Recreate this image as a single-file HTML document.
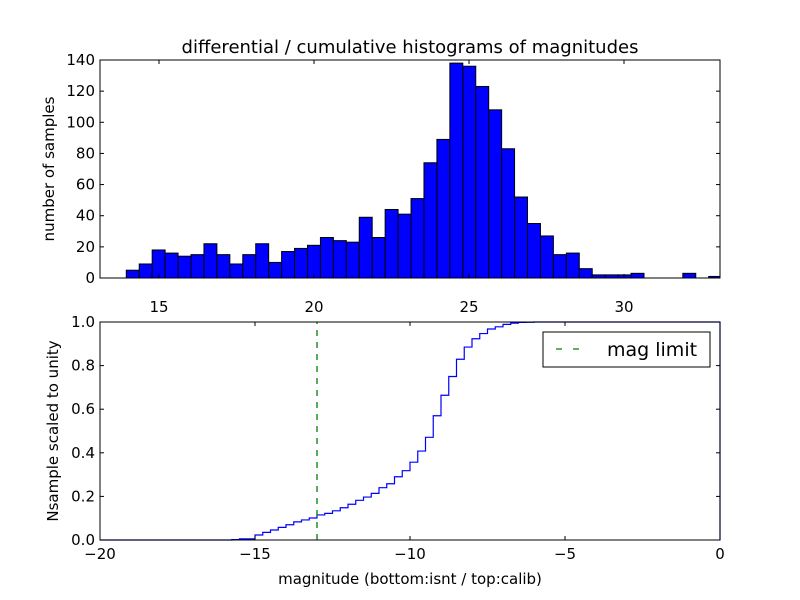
<!DOCTYPE html>
<html><head><meta charset="utf-8"><style>
body{margin:0;background:#fff;}
svg{display:block;font-family:"DejaVu Sans","Liberation Sans",sans-serif;}
</style></head><body>
<svg id="chart" width="800" height="600" xmlns="http://www.w3.org/2000/svg">
<rect width="800" height="600" fill="#fff"/>
<text x="410" y="53" font-size="18" text-anchor="middle">differential / cumulative histograms of magnitudes</text>
<g id="topG"></g>
<g id="botG"></g>
<text x="54" y="169" font-size="15" text-anchor="middle" transform="rotate(-90 54 169)">number of samples</text>
<text x="58" y="431" font-size="15" text-anchor="middle" transform="rotate(-90 58 431)">Nsample scaled to unity</text>
<text x="410" y="584" font-size="15" text-anchor="middle">magnitude (bottom:isnt / top:calib)</text>
<g>
<rect x="543" y="332" width="167" height="35" fill="#fff" stroke="#000" stroke-width="1"/>
<line x1="556" y1="349" x2="586" y2="349" stroke="#008000" stroke-width="1.3" stroke-dasharray="6,11"/>
<text x="607" y="356" font-size="19">mag limit</text>
</g>
</svg>
<script>
const histStart = 13.945;
const histBinWidth = 0.4175;
const histCounts = [5,9,18,16,14,15,22,15,9,15,22,10,17,19,21,26,24,23,39,26,44,41,51,74,89,138,136,123,108,83,52,35,27,15,16,6,2,2,2,3,0,0,0,3,0,1];
const topXTicks = [15,20,25,30];
const topYTicks = [0,20,40,60,80,100,120,140];
const cumEdges = [-15.75,-15.5,-15.25,-15,-14.75,-14.5,-14.25,-14,-13.75,-13.5,-13.25,-13,-12.75,-12.5,-12.25,-12,-11.75,-11.5,-11.25,-11,-10.75,-10.5,-10.25,-10,-9.75,-9.5,-9.25,-9,-8.75,-8.5,-8.25,-8,-7.75,-7.5,-7.25,-7,-6.75,-6.5,-6.25,-6,-5.75];
const cumValues = [0.002,0.005,0.005,0.023,0.035,0.046,0.058,0.07,0.083,0.092,0.101,0.115,0.122,0.134,0.148,0.164,0.182,0.197,0.214,0.24,0.258,0.29,0.318,0.357,0.408,0.471,0.57,0.664,0.75,0.829,0.885,0.923,0.947,0.968,0.978,0.989,0.995,0.998,0.999,1.0,1.0];
const magLimit = [-13];
const botXTicks = [-20,-15,-10,-5,0];
const botYTicks = [0,0.2,0.4,0.6,0.8,1.0];

const NS='http://www.w3.org/2000/svg';
function mk(tag,attrs,parent){const e=document.createElementNS(NS,tag);for(const k in attrs)e.setAttribute(k,attrs[k]);parent.appendChild(e);return e;}
const AL=100,AR=720;
const tX=v=>159+(v-15)*31, tY=v=>278-(v/140)*218;
const topG=document.getElementById('topG');
histCounts.forEach((c,i)=>{
  const x0=tX(histStart+i*histBinWidth), x1=tX(histStart+(i+1)*histBinWidth);
  if(c<=0)return;
  const r=mk('rect',{x:x0,y:tY(c),width:Math.min(x1,AR)-x0,height:tY(0)-tY(c),fill:'#0000ff',stroke:'#000','stroke-width':1},topG);
  
  
});
const tf=mk('rect',{x:AL,y:60,width:AR-AL,height:218,fill:'none',stroke:'#000','stroke-width':1},topG);


topXTicks.forEach(v=>{const x=tX(v);
  mk('line',{x1:x,y1:278,x2:x,y2:274,stroke:'#000'},topG);mk('line',{x1:x,y1:60,x2:x,y2:64,stroke:'#000'},topG);
  const t=mk('text',{x:x,y:312,'font-size':15,'text-anchor':'middle'},topG);t.textContent=v;
  
  });
topYTicks.forEach(v=>{const y=tY(v);
  mk('line',{x1:AL,y1:y,x2:AL+4,y2:y,stroke:'#000'},topG);mk('line',{x1:AR,y1:y,x2:AR-4,y2:y,stroke:'#000'},topG);
  const t=mk('text',{x:95,y:y+5,'font-size':15,'text-anchor':'end'},topG);t.textContent=v;
  
  });
const bX=v=>AL+(v+20)*31, bY=v=>540-v*218;
const botG=document.getElementById('botG');
let d='M'+bX(-20)+','+bY(0)+' L'+bX(cumEdges[0])+','+bY(0);
cumEdges.forEach((e,i)=>{const nx=i+1<cumEdges.length?cumEdges[i+1]:0;
  d+=' L'+bX(e)+','+bY(cumValues[i])+' L'+bX(nx)+','+bY(cumValues[i]);});
d+=' L'+bX(0)+','+bY(0);
const p=mk('path',{d:d,fill:'none',stroke:'#0000ff','stroke-width':1.2},botG);


const ml=mk('line',{x1:bX(magLimit[0]),y1:bY(0),x2:bX(magLimit[0]),y2:bY(1),stroke:'#008000','stroke-width':1.3,'stroke-dasharray':'6,6'},botG);


const bf=mk('rect',{x:AL,y:322,width:AR-AL,height:218,fill:'none',stroke:'#000','stroke-width':1},botG);


botXTicks.forEach(v=>{const x=bX(v);
  mk('line',{x1:x,y1:540,x2:x,y2:536,stroke:'#000'},botG);mk('line',{x1:x,y1:322,x2:x,y2:326,stroke:'#000'},botG);
  const t=mk('text',{x:x,y:559,'font-size':15,'text-anchor':'middle'},botG);t.textContent=(v<0?'\u2212'+(-v):v);
  
  });
botYTicks.forEach(v=>{const y=bY(v);
  mk('line',{x1:AL,y1:y,x2:AL+4,y2:y,stroke:'#000'},botG);mk('line',{x1:AR,y1:y,x2:AR-4,y2:y,stroke:'#000'},botG);
  const t=mk('text',{x:95,y:y+5,'font-size':15,'text-anchor':'end'},botG);t.textContent=v.toFixed(1);
  
  });
</script>
</body></html>
